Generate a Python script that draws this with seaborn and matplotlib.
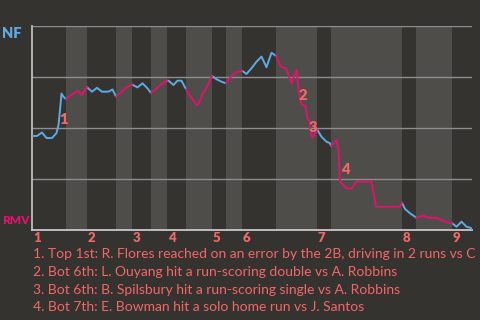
import numpy as np
import pandas as pd
import matplotlib
matplotlib.use("Agg")
import matplotlib.pyplot as plt
import seaborn as sns

# ---- data ----
x = [0.0, 1.0, 2.0, 2.9, 4.0, 4.9, 5.3, 5.6, 5.9, 6.3, 6.8,
     7.9, 9.1, 9.9, 11.0,
     12.0, 13.0, 14.0, 15.3, 16.1, 16.8,
     17.9, 18.9, 20.0,
     21.1, 22.1, 23.0, 23.8,
     24.8, 25.6, 27.0,
     27.3, 28.3, 29.1, 29.9, 30.8,
     31.9, 32.9, 33.3, 34.0, 35.0, 36.0,
     36.9, 37.9, 38.8,
     39.9, 40.9, 42.0,
     42.9, 43.9, 44.9, 45.9, 46.9, 47.9, 48.8,
     49.8, 50.8, 51.9, 52.9, 53.3, 53.8, 54.7, 55.1, 55.5, 55.8, 56.1, 56.6, 57.0,
     57.9, 58.9, 59.6, 59.8,
     60.9, 61.3, 61.6, 62.9, 63.9, 64.9, 67.9, 68.8, 73.5, 74.0,
     74.6, 75.6, 76.6, 76.8,
     78.3, 79.3, 80.9, 81.9, 82.9, 84.0,
     84.9, 85.9, 86.9, 87.7, 88.0]
wp = [0.461, 0.461, 0.478, 0.451, 0.451, 0.475, 0.515, 0.588, 0.669, 0.653, 0.642,
      0.662, 0.683, 0.662, 0.700,
      0.678, 0.697, 0.678, 0.678, 0.689, 0.654,
      0.678, 0.700, 0.713,
      0.699, 0.719, 0.697, 0.672,
      0.691, 0.711, 0.732,
      0.732, 0.711, 0.732, 0.732, 0.690,
      0.646, 0.613, 0.618, 0.662, 0.702, 0.755,
      0.739, 0.727, 0.719,
      0.755, 0.773, 0.781,
      0.765, 0.793, 0.825, 0.850, 0.798, 0.869, 0.853,
      0.800, 0.793, 0.719, 0.784, 0.695, 0.620, 0.605, 0.547, 0.531, 0.466, 0.454, 0.474, 0.494,
      0.457, 0.433, 0.425, 0.412,
      0.441, 0.392, 0.237, 0.204, 0.204, 0.237, 0.237, 0.114, 0.114, 0.134,
      0.103, 0.082, 0.065, 0.060,
      0.070, 0.060, 0.060, 0.049, 0.038, 0.034,
      0.016, 0.041, 0.016, 0.011, 0.003]

half_bounds = [0, 6.8, 11, 16.8, 20, 23.8, 27, 30.8, 36, 38.8, 42, 48.8,
               57, 59.8, 74, 76.8, 84, 88]
innings = ["1", "2", "3", "4", "5", "6", "7", "8", "9"]

event_labels = ["1", "2", "3", "4"]
event_x = [6.4, 54.2, 56.2, 62.6]
event_y = [0.544, 0.657, 0.500, 0.299]

captions = [
    "1. Top 1st: R. Flores reached on an error by the 2B, driving in 2 runs vs C",
    "2. Bot 6th: L. Ouyang hit a run-scoring double vs A. Robbins",
    "3. Bot 6th: B. Spilsbury hit a run-scoring single vs A. Robbins",
    "4. Bot 7th: E. Bowman hit a solo home run vs J. Santos",
]
team_top = "NF"
team_bottom = "RMV"

# ---- styling ----
BG = "#35332f"
BAND = "#4e4d4a"
BLUE = "#5eaae4"
PINK = "#e0126c"
SALMON = "#f06868"
GRID = "#8e8e8e"
SPINE = "#c8c8c8"

sns.set_style("dark")
plt.rcParams["font.family"] = ["Lato", "DejaVu Sans"]

# build segment table
xa = np.array(x)
ya = np.array(wp)
rows = []
for i in range(len(half_bounds) - 1):
    lo, hi = half_bounds[i], half_bounds[i + 1]
    m = (xa >= lo - 1e-9) & (xa <= hi + 1e-9)
    team = team_top if i % 2 == 0 else team_bottom
    for xv, yv in zip(xa[m], ya[m]):
        rows.append({"x": xv, "wp": yv, "half": i, "team": team})
df = pd.DataFrame(rows)

fig = plt.figure(figsize=(4.8, 3.2), dpi=100, facecolor=BG)
ax = fig.add_axes([32 / 480, 1 - 230 / 320, 440 / 480, 204 / 320])
ax.set_facecolor(BG)

# shaded bottom halves
for i in range(1, len(half_bounds) - 1, 2):
    ax.axvspan(half_bounds[i], half_bounds[i + 1], color=BAND, lw=0, zorder=0)

for g in [0.25, 0.5, 0.75, 1.0]:
    ax.axhline(g, color=GRID, lw=1.0, zorder=1)

sns.lineplot(data=df, x="x", y="wp", hue="team", units="half", estimator=None,
             sort=False, palette={team_top: BLUE, team_bottom: PINK},
             legend=False, lw=1.4, ax=ax, zorder=3)

ax.set_xlim(half_bounds[0], half_bounds[-1])
ax.set_ylim(0, 1)
ax.set_xticks([])
ax.set_yticks([])
ax.set_xlabel("")
ax.set_ylabel("")
ax.grid(False)
for s in ["top", "right"]:
    ax.spines[s].set_visible(False)
for s in ["left", "bottom"]:
    ax.spines[s].set_visible(True)
    ax.spines[s].set_color(SPINE)
    ax.spines[s].set_linewidth(1.3)
ax.spines["left"].set_color("#bdbdbd")

trans = matplotlib.transforms.blended_transform_factory(ax.transData, ax.transAxes)
for lab, bx in zip(innings, half_bounds[0::2]):
    ax.text(bx + 0.2, -0.04, lab, transform=trans, ha="left", va="center",
            color=SALMON, fontsize=9.5, fontweight="heavy")

for lab, ex, ey in zip(event_labels, event_x, event_y):
    ax.text(ex, ey, lab, ha="center", va="center", color=SALMON,
            fontsize=10.5, fontweight="heavy", zorder=4)

fig.text(2 / 480, 1 - 33 / 320, team_top, color=BLUE, fontsize=10.5,
         fontweight="heavy", ha="left", va="center")
fig.text(2 / 480, 1 - 221 / 320, team_bottom, color=PINK, fontsize=8.5,
         fontweight="heavy", ha="left", va="center")

for k, cap in enumerate(captions):
    ycap = [254.5, 272, 289.5, 307][k]
    fig.text(33 / 480, 1 - ycap / 320, cap, color=SALMON, fontsize=10,
             ha="left", va="center")

fig.savefig("out.png", dpi=100, facecolor=BG)
